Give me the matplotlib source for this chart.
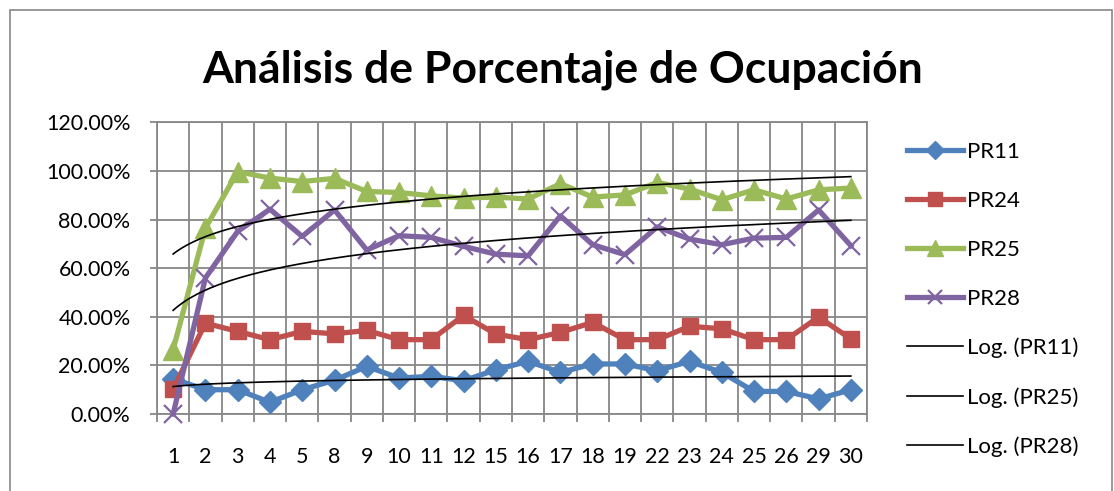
import numpy as np
import matplotlib.pyplot as plt
from matplotlib.ticker import PercentFormatter, MultipleLocator
from matplotlib.patches import Rectangle

plt.rcParams["font.family"] = ["Lato", "DejaVu Sans"]

# Days sampled (category axis)
dias = ["1", "2", "3", "4", "5", "8", "9", "10", "11", "12", "15",
        "16", "17", "18", "19", "22", "23", "24", "25", "26", "29", "30"]

# Occupancy rates per parking zone (fractions)
pr11 = [0.145, 0.10, 0.10, 0.048, 0.10, 0.139, 0.196, 0.148, 0.155, 0.137, 0.182,
        0.217, 0.171, 0.206, 0.206, 0.178, 0.217, 0.171, 0.093, 0.093, 0.062, 0.10]
pr24 = [0.103, 0.374, 0.340, 0.306, 0.340, 0.330, 0.344, 0.306, 0.306, 0.406, 0.329,
        0.306, 0.336, 0.377, 0.306, 0.306, 0.361, 0.351, 0.306, 0.306, 0.399, 0.309]
pr25 = [0.265, 0.765, 0.998, 0.971, 0.957, 0.970, 0.916, 0.912, 0.898, 0.889, 0.893,
        0.885, 0.948, 0.893, 0.902, 0.953, 0.926, 0.882, 0.923, 0.885, 0.923, 0.930]
pr28 = [0.0, 0.56, 0.752, 0.843, 0.731, 0.840, 0.675, 0.734, 0.727, 0.690, 0.658,
        0.651, 0.816, 0.697, 0.656, 0.770, 0.720, 0.697, 0.724, 0.727, 0.840, 0.693]

series = [
    ("PR11", pr11, "#4F81BD", "D", 11),
    ("PR24", pr24, "#C0504D", "s", 12),
    ("PR25", pr25, "#9BBB59", "^", 14),
    ("PR28", pr28, "#8064A2", "x", 13),
]
trend_names = ["PR11", "PR25", "PR28"]

fig = plt.figure(figsize=(11.14, 4.91), dpi=100)
W, H = 1114, 491

# Chart border
fig.patches.append(Rectangle((10 / W, -0.1), 1102 / W, 1.1 - 10 / H,
                             transform=fig.transFigure, fill=False,
                             edgecolor="#888888", linewidth=1.2))

ax = fig.add_axes([157 / W, (H - 414) / H, 710 / W, (414 - 122.5) / H])
x = np.arange(len(dias))

for name, vals, color, marker, ms in series:
    if marker == "x":
        ax.plot(x, vals, color=color, lw=3.8, marker=marker, ms=ms, mew=1.6,
                label=name, clip_on=False, zorder=3)
    else:
        ax.plot(x, vals, color=color, lw=3.8, marker=marker, ms=ms,
                mec=color, label=name, clip_on=False, zorder=3)

# Logarithmic trend lines y = a*ln(n) + b
n = np.arange(1, len(dias) + 1)
nn = np.linspace(1, len(dias), 200)
data = {name: vals for name, vals, *_ in series}
for name in trend_names:
    a, b = np.polyfit(np.log(n), data[name], 1)
    ax.plot(nn - 1, a * np.log(nn) + b, color="black", lw=1.2,
            label=f"Log. ({name})", zorder=4)

ax.set_xlim(-0.5, len(dias) - 0.5)
ax.set_ylim(0, 1.2)
ax.yaxis.set_major_locator(MultipleLocator(0.2))
ax.yaxis.set_major_formatter(PercentFormatter(1.0, decimals=2))
ax.set_xticks(x)
ax.set_xticklabels(dias)
ax.set_xticks(np.arange(-0.5, len(dias)), minor=True)

ax.grid(True, which="major", axis="y", color="#878787", lw=1.3)
ax.grid(True, which="minor", axis="x", color="#878787", lw=1.3)
ax.set_axisbelow(True)
for s in ax.spines.values():
    s.set_color("#878787")
    s.set_linewidth(1.3)

ax.tick_params(axis="x", which="major", length=0, pad=24, labelsize=15.5)
ax.tick_params(axis="x", which="minor", length=6, width=1.3, color="#878787",
               direction="out")
ax.tick_params(axis="y", length=5, width=1.3, color="#878787", pad=14,
               labelsize=15.5)

fig.text(0.505, (H - 70) / H, "Análisis de Porcentaje de Ocupación",
         ha="center", va="center", fontsize=32, fontweight="bold")

ax.legend(loc="upper left", bbox_to_anchor=(907 / W, (H - 142) / H),
          bbox_transform=fig.transFigure, frameon=False, fontsize=16,
          handlelength=2.5, handletextpad=0.2, labelspacing=1.3,
          borderpad=0, borderaxespad=0, markerscale=0.8)

fig.savefig("out.png", dpi=100)
